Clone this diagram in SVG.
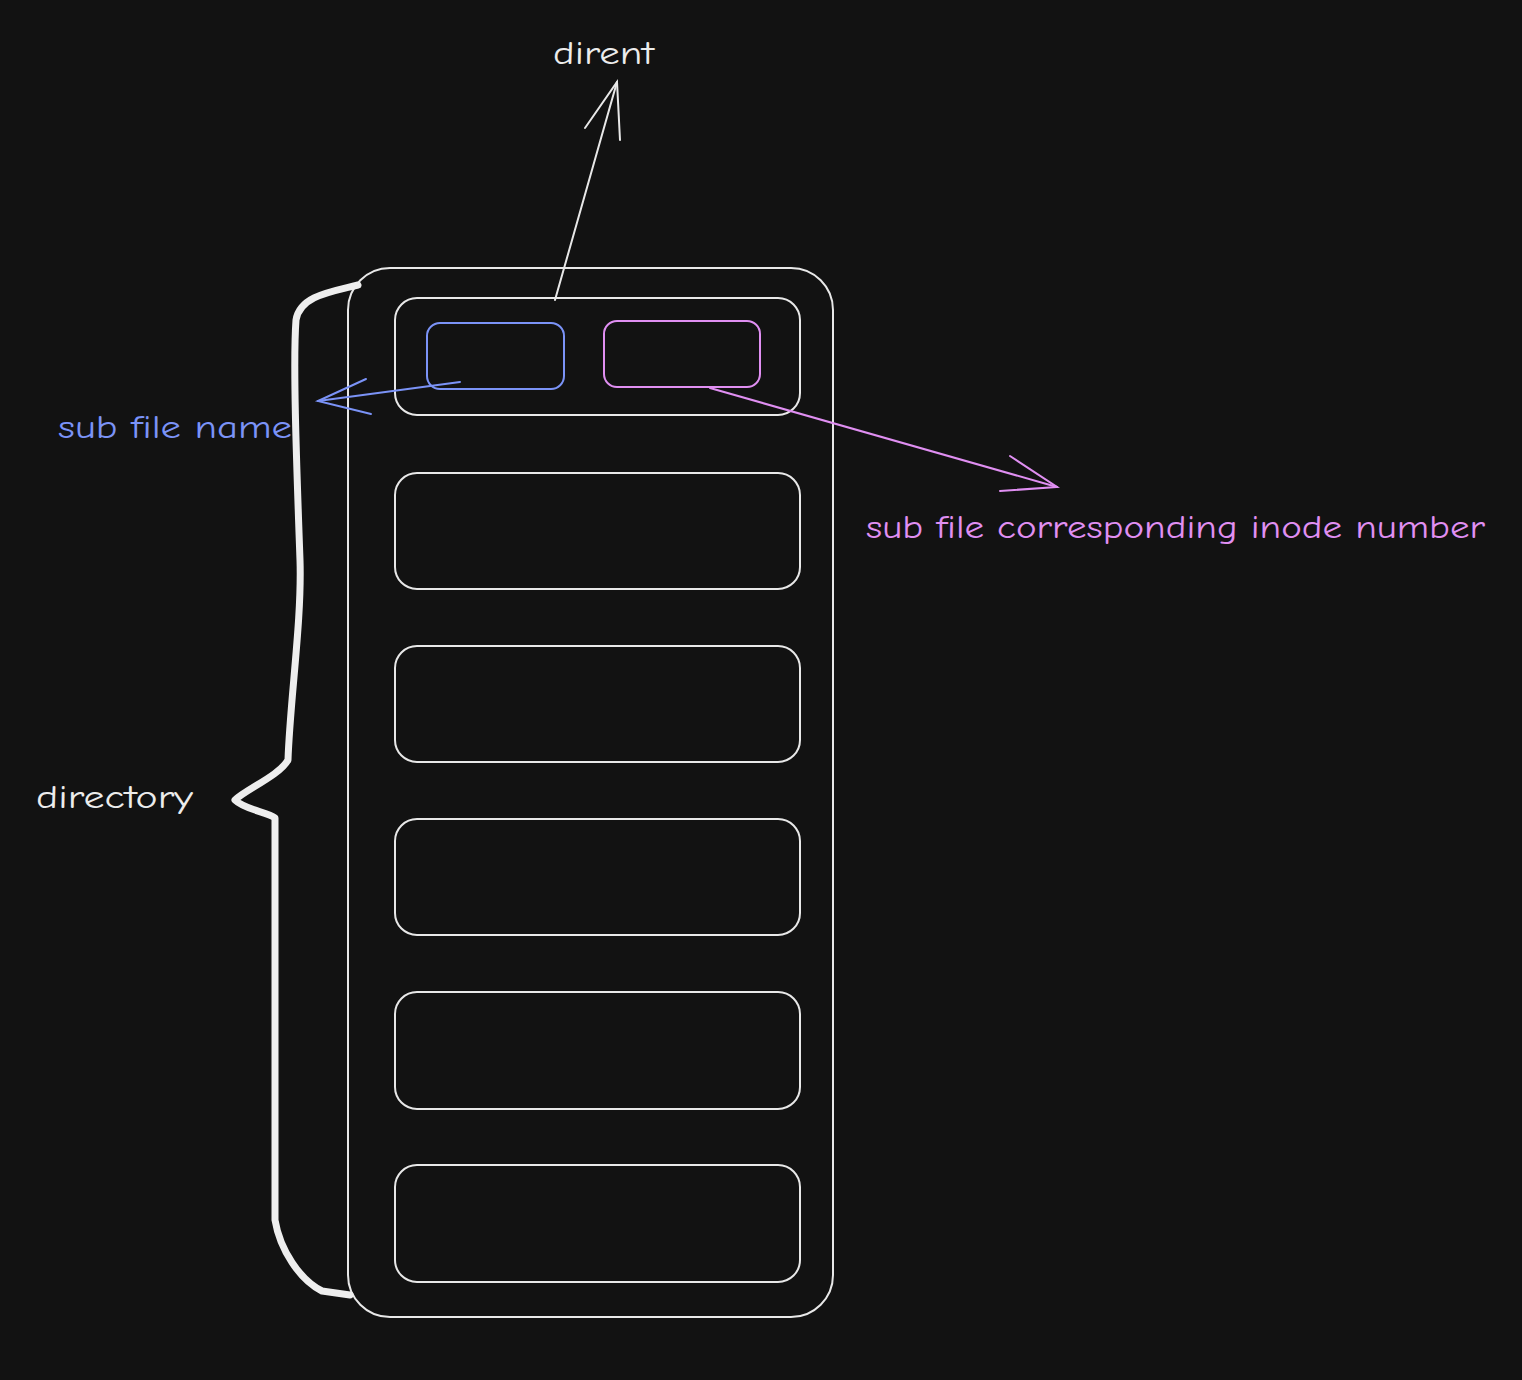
<svg xmlns="http://www.w3.org/2000/svg" width="1522" height="1380" viewBox="0 0 1522 1380">
<style>
.box{fill:none;stroke:#e8e8e8;stroke-width:2}
.txt{font-family:"Comic Neue","Liberation Sans",sans-serif;font-size:32px}
.w{fill:#ececec}
.b{fill:#7b93f7}
.p{fill:#e08ff2}
</style>
<rect width="1522" height="1380" fill="#121212"/>
<g id="directory">
<rect class="box" x="348" y="268" width="485" height="1049" rx="42"/>
</g>
<g id="dirent">
<rect class="box" x="395" y="298" width="405" height="117" rx="22"/>
</g>
<g id="row2"><rect class="box" x="395" y="473" width="405" height="116" rx="22"/></g>
<g id="row3"><rect class="box" x="395" y="646" width="405" height="116" rx="22"/></g>
<g id="row4"><rect class="box" x="395" y="819" width="405" height="116" rx="22"/></g>
<g id="row5"><rect class="box" x="395" y="992" width="405" height="117" rx="22"/></g>
<g id="row6"><rect class="box" x="395" y="1165" width="405" height="117" rx="22"/></g>
<g id="name-field"><rect x="427" y="323" width="137" height="66" rx="13" fill="none" stroke="#7b93f7" stroke-width="2"/></g>
<g id="inode-field"><rect x="604" y="321" width="156" height="66" rx="13" fill="none" stroke="#e08ff2" stroke-width="2"/></g>
<g id="brace">
<path d="M358,285 C330,292 300,296 296,320 C293,360 296,450 300,560 C302,620 290,700 288,760 C280,775 245,790 235,800 C245,810 268,812 275,818 C275,900 275,1100 275,1220 C280,1250 300,1280 322,1291 L350,1295" fill="none" stroke="#eeeeee" stroke-width="7" stroke-linecap="round" stroke-linejoin="round"/>
</g>
<g id="connectors" fill="none" stroke-width="2" stroke-linecap="round">
<g stroke="#e8e8e8">
<path d="M555,300 L617,82"/>
<path d="M585,128 L617,82 L620,140"/>
</g>
<g stroke="#7b93f7">
<path d="M460,382 L318,401"/>
<path d="M366,379 L318,401 L371,414"/>
</g>
<g stroke="#e08ff2">
<path d="M710,388 L1057,487"/>
<path d="M1010,456 L1057,487 L1000,491"/>
</g>
</g>
<g id="labels">
<text class="txt w" x="553" y="64" textLength="101" lengthAdjust="spacingAndGlyphs">dirent</text>
<text class="txt b" x="58" y="438" textLength="234" lengthAdjust="spacingAndGlyphs">sub file name</text>
<text class="txt p" x="866" y="538" textLength="619" lengthAdjust="spacingAndGlyphs">sub file corresponding inode number</text>
<text class="txt w" x="36" y="808" textLength="157" lengthAdjust="spacingAndGlyphs">directory</text>
</g>
</svg>
